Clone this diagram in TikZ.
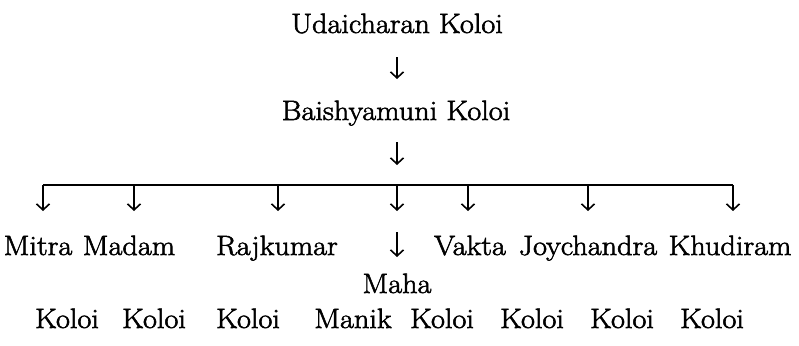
\documentclass[tikz,border=0pt]{standalone}
\usepackage{fontspec}
\newfontfamily\lblfont{Latin Modern Roman}[FakeBold=2,FakeStretch=1.08]
\usetikzlibrary{arrows.meta}
\begin{document}
\begin{tikzpicture}[x=1pt,y=-1pt,
  lbl/.style={anchor=base,inner sep=0pt,font=\lblfont\fontsize{28}{34}\selectfont},
  arr/.style={line width=1.6pt,-{Straight Barb[length=6pt,width=13pt,line width=1.6pt]}},
  barline/.style={line width=1.8pt}]
\useasboundingbox (0,0) rectangle (799,345);
% top names
\node[lbl] (udai) at (397,33) {Udaicharan Koloi};
\node[lbl] (baish) at (396,120) {Baishyamuni Koloi};
\coordinate (a1s) at (397,57); \coordinate (a1e) at (397,79);
\coordinate (a2s) at (397,142); \coordinate (a2e) at (397,165);
\draw[arr] (a1s) -- (a1e);
\draw[arr] (a2s) -- (a2e);
% bar
\foreach \n/\x in {1/43,2/134,3/278,4/397,5/468,6/588,7/733}{
  \coordinate (t\n) at (\x,185);
  \coordinate (h\n) at (\x,211);
}
\draw[barline] (t1) -- (t7);
\foreach \n in {1,...,7}{ \draw[arr] (t\n) -- (h\n); }
% second row
\node[lbl] (mitra) at (38,255) {Mitra};
\node[lbl] (madam) at (129,255) {Madam};
\node[lbl] (raj) at (277,255) {Rajkumar};
\node[lbl] (vakta) at (470,255) {Vakta};
\node[lbl] (joy) at (588,255) {Joychandra};
\node[lbl] (khu) at (730,255) {Khudiram};
\coordinate (m1) at (397,232); \coordinate (m2) at (397,257);
\draw[arr] (m1) -- (m2);
\node[lbl] (maha) at (397,293) {Maha};
% bottom row
\node[lbl] (k1) at (67,328) {Koloi};
\node[lbl] (k2) at (154,328) {Koloi};
\node[lbl] (k3) at (248,328) {Koloi};
\node[lbl] (manik) at (353,328) {Manik};
\node[lbl] (k5) at (442,328) {Koloi};
\node[lbl] (k6) at (532,328) {Koloi};
\node[lbl] (k7) at (622,328) {Koloi};
\node[lbl] (k8) at (712,328) {Koloi};
\end{tikzpicture}
\end{document}
